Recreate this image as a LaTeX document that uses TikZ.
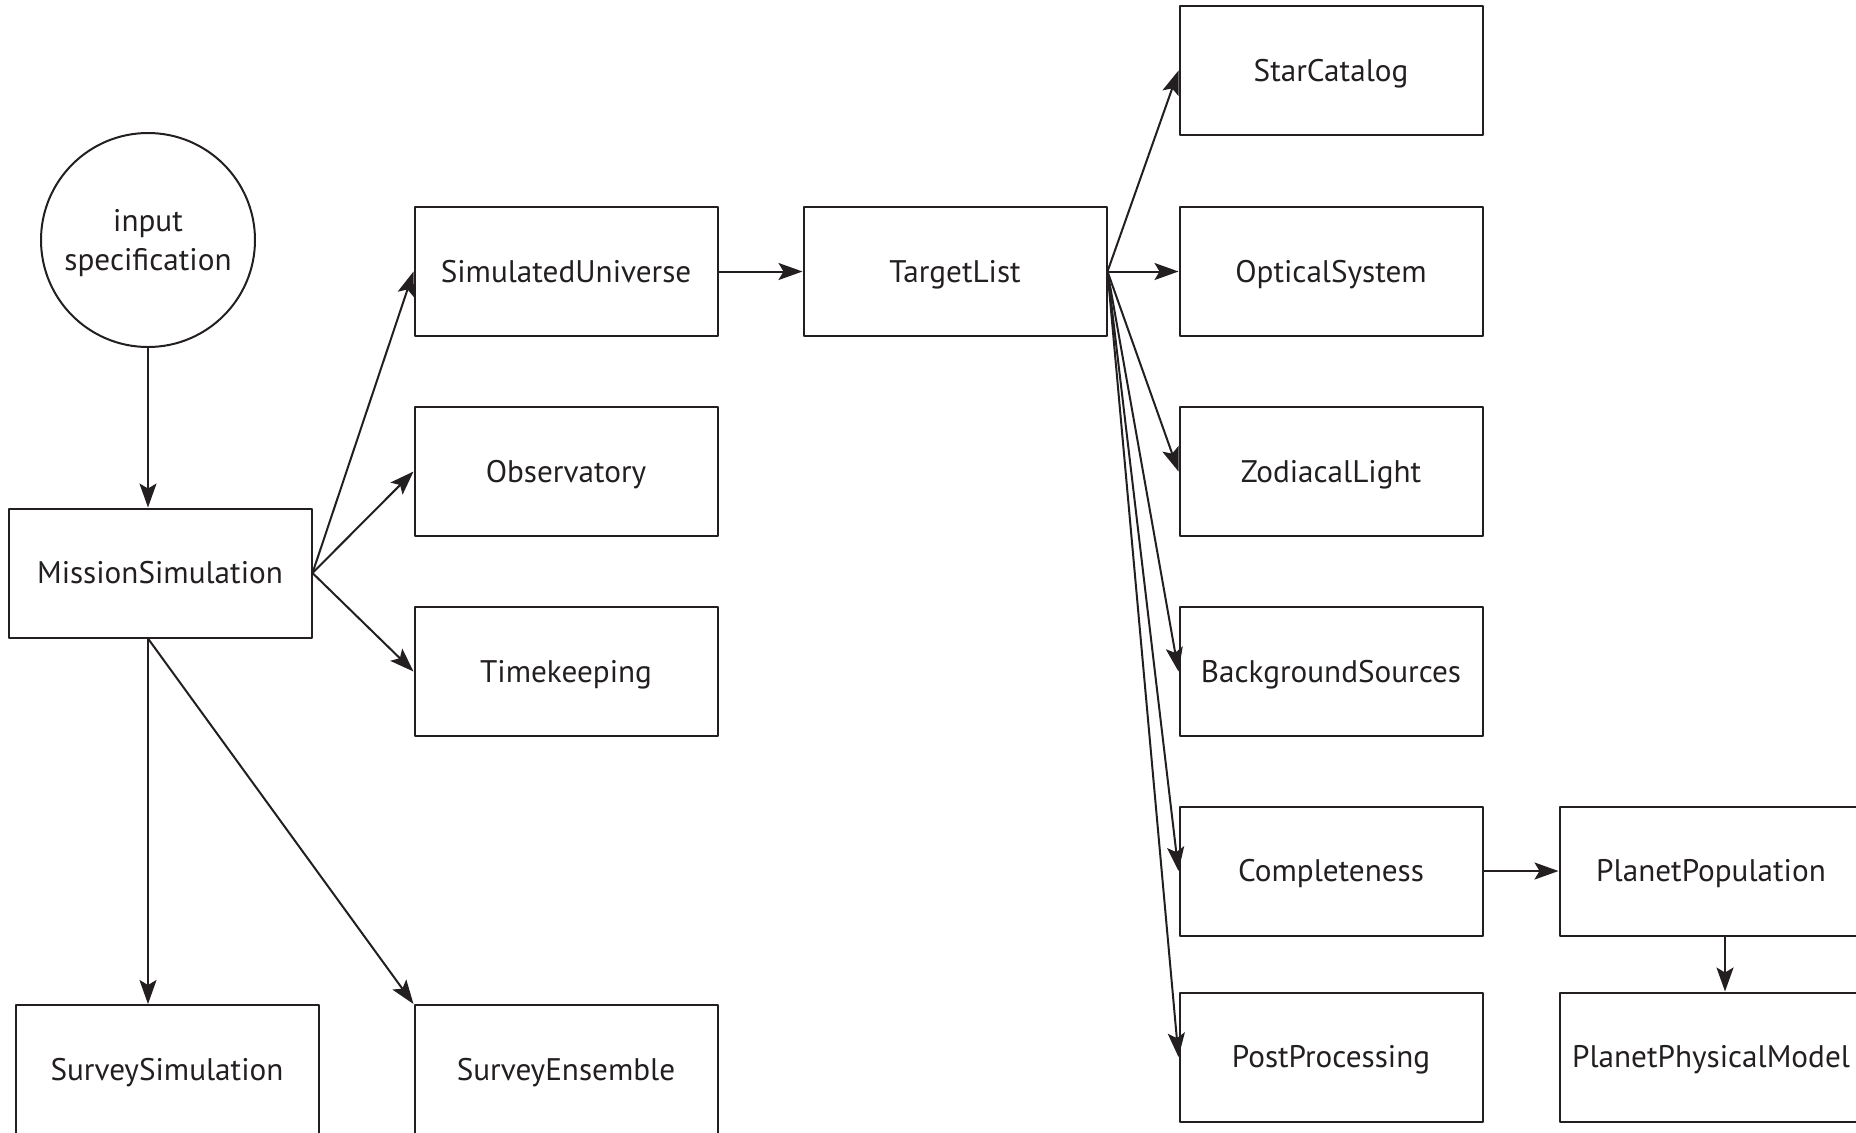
\documentclass[tikz,border=0pt]{standalone}
\usepackage{fontspec}
\setmainfont{PT Sans}
\usetikzlibrary{arrows.meta}
\newcommand{\Unit}{0.5pt}
\newcommand{\Edge}{1pt}
\definecolor{ink}{HTML}{231F20}

\tikzset{
  module/.style={draw=ink, line width=\Edge, minimum width=151.5pt, minimum height=64.5pt,
    inner sep=0pt, text height=1.05em, text depth=0pt, text=ink,
    font=\fontsize{15.6}{19.5}\selectfont},
  entry/.style={circle, draw=ink, line width=\Edge, minimum size=107pt, inner sep=0pt,
    text depth=0pt, align=center, text=ink, font=\fontsize{15.6}{19.5}\selectfont},
  link/.style={draw=ink, line width=\Edge, -{Stealth[length=12pt,width=8.5pt,inset=2.5pt]}}
}

\begin{document}
\begin{tikzpicture}[x=\Unit,y=-\Unit, line join=round]

  \clip (0,0) rectangle (1856,1132);

  % ---- the input and the top-level module --------------------------------
  \node[entry] (spec) at (148,240) {input\\specification};
  \node[module] (mission) at (160,573) {MissionSimulation};
  \draw[link] (spec.south) -- (spec.south |- mission.north);

  % ---- what MissionSimulation builds -------------------------------------
  \foreach \nm/\y/\txt in {universe/271.5/SimulatedUniverse,
                           observatory/471.5/Observatory,
                           timekeeping/671.5/Timekeeping} {
    \node[module] (\nm) at (566,\y) {\txt};
    \draw[link] (mission.east) -- (\nm.west);
  }
  \node[module] (survey) at (167,1069.5) {SurveySimulation};
  \node[module] (ensemble) at (566,1069.5) {SurveyEnsemble};
  \draw[link] (spec.south |- mission.south) -- (spec.south |- survey.north);
  \draw[link] (spec.south |- mission.south) -- (ensemble.north west);

  % ---- the target list and everything hanging off it ---------------------
  \node[module] (target) at (955,271.5) {TargetList};
  \draw[link] (universe.east) -- (target.west);

  \foreach \nm/\y/\txt in {stars/70.5/StarCatalog,
                           optics/271.5/OpticalSystem,
                           zodi/471.5/ZodiacalLight,
                           background/671.5/BackgroundSources,
                           completeness/871/Completeness,
                           postproc/1057/PostProcessing} {
    \node[module] (\nm) at (1331,\y) {\txt};
    \draw[link] (target.east) -- (\nm.west);
  }

  % ---- planets, off the right edge ---------------------------------------
  \node[module] (population) at (1711,871) {PlanetPopulation};
  \node[module] (physical) at (1711,1057) {PlanetPhysicalModel};
  \draw[link] (completeness.east) -- (population.west);
  \draw[link] ([xshift=7pt]population.south) -- ([xshift=7pt]physical.north);

\end{tikzpicture}
\end{document}
